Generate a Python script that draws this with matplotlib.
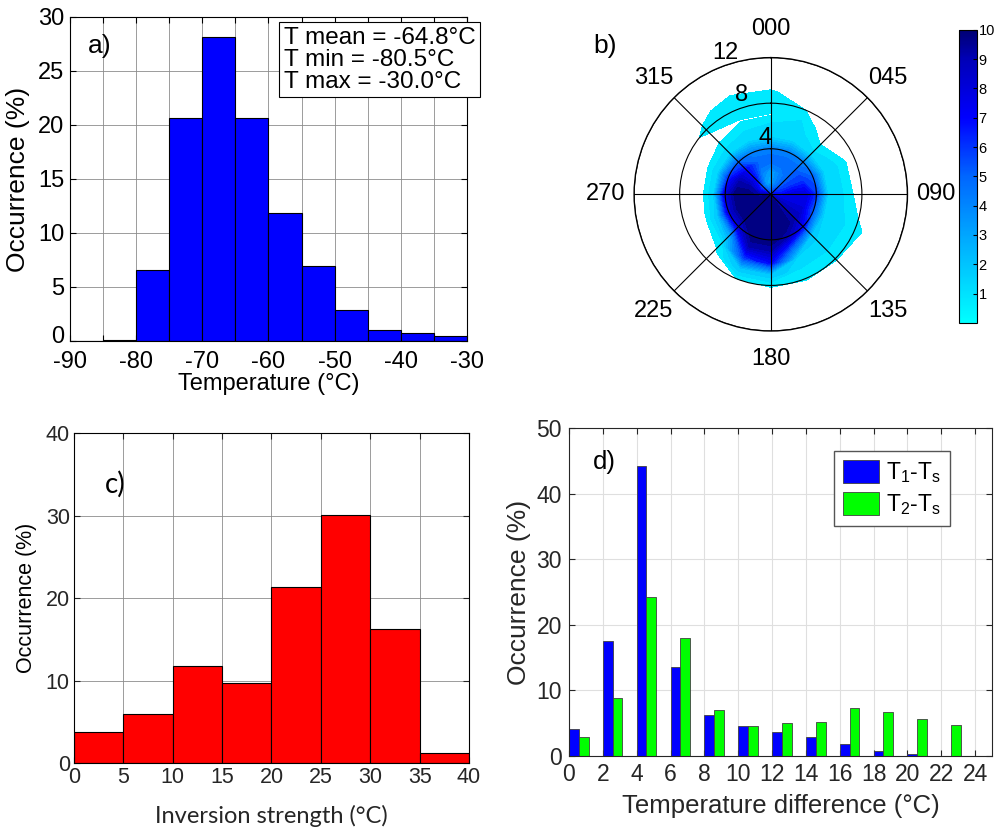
import matplotlib
matplotlib.use('Agg')
import matplotlib.pyplot as plt
import matplotlib.transforms as mtransforms
import numpy as np
from matplotlib.colors import LinearSegmentedColormap, Normalize
from matplotlib.cm import ScalarMappable

plt.rcParams['font.family'] = ['Liberation Sans', 'DejaVu Sans']
plt.rcParams['mathtext.fontset'] = 'custom'
plt.rcParams['mathtext.rm'] = 'Liberation Sans'

# a) surface temperature histogram
temp_edges = [-90, -85, -80, -75, -70, -65, -60, -55, -50, -45, -40, -35, -30]
temp_occ = [0.0, 0.06, 6.6, 20.6, 28.1, 20.6, 11.85, 6.9, 2.84, 1.05, 0.77, 0.46]
temp_stats = ['T mean = -64.8\u00b0C', 'T min = -80.5\u00b0C', 'T max = -30.0\u00b0C']

# b) wind rose field: rows = direction, columns = speed
directions = [0, 22.5, 45, 67.5, 90, 112.5, 135, 157.5,
              180, 202.5, 225, 247.5, 270, 292.5, 315, 337.5]
speeds = [0, 1, 2, 3, 4, 5, 6, 7, 8, 9, 10, 11]
field = [
    [6, 3, 3, 5, 4, 1.5, 1.2, 0.45, 1, 0.6, 0, 0],
    [6, 4, 4, 5, 4, 1.5, 1.2, 1, 0.5, 0, 0, 0],
    [7, 5, 5, 5, 4, 1.2, 0.6, 0, 0, 0, 0, 0],
    [7, 6, 6, 6, 5, 1.5, 1.2, 0.6, 0, 0, 0, 0],
    [8, 7, 8, 8, 6, 1.5, 1.2, 0.65, 0, 0, 0, 0],
    [8, 8, 8, 8, 5, 1.5, 1.2, 1, 0.7, 0.4, 0, 0],
    [9, 9, 9, 9, 7, 2, 1.2, 1, 0.6, 0, 0, 0],
    [10, 10, 10, 10, 9, 5, 1.5, 1, 0.6, 0, 0, 0],
    [10, 10, 10, 10, 10, 9, 7, 2, 0.6, 0, 0, 0],
    [10, 10, 10, 10, 10, 9, 6, 2, 0.5, 0, 0, 0],
    [10, 10, 10, 10, 8, 3, 1, 0.3, 0, 0, 0, 0],
    [10, 10, 10, 10, 8, 2, 0.55, 0, 0, 0, 0, 0],
    [9, 9, 10, 10, 8, 1.5, 0.4, 0, 0, 0, 0, 0],
    [7, 7, 9, 9, 6, 1.5, 0.5, 0, 0, 0, 0, 0],
    [6, 5, 7, 7, 5, 1.5, 0.7, 0.2, 0.7, 0.3, 0, 0],
    [6, 3, 4, 5, 4, 1.5, 1, 0.45, 1, 0.8, 0, 0],
]
dir_labels = ['000', '045', '090', '135', '180', '225', '270', '315']
label_dirs = [0, 45, 90, 135, 180, 225, 270, 315]
speed_rings = [4, 8, 12]

# c) inversion strength
inv_edges = [0, 5, 10, 15, 20, 25, 30, 35, 40]
inv_occ = [3.76, 5.98, 11.7, 9.7, 21.3, 30.1, 16.3, 1.2]

# d) temperature differences
diff_bins = [0, 2, 4, 6, 8, 10, 12, 14, 16, 18, 20, 22]
t1_ts = [4.07, 17.6, 44.25, 13.6, 6.3, 4.6, 3.6, 2.9, 1.8, 0.76, 0.3, 0.05]
t2_ts = [2.95, 8.8, 24.2, 17.95, 7.0, 4.5, 5.0, 5.2, 7.3, 6.7, 5.6, 4.7]

fig = plt.figure(figsize=(9.97, 8.3), dpi=100)

# ---- a)
ax = fig.add_axes([0.0702, 0.5892, 0.3982, 0.3904])
ax.bar(temp_edges[:-1], temp_occ, width=np.diff(temp_edges), align='edge',
       color='#0000ff', edgecolor='k', linewidth=0.8, zorder=2)
ax.set_xlim(-90, -30)
ax.set_ylim(0, 30)
ax.set_xticks(temp_edges)
ax.set_xticklabels([str(v) if v % 10 == 0 else '' for v in temp_edges])
ax.set_yticks(range(0, 31, 5))
ax.grid(True, color='#8c8c8c', linewidth=0.6, zorder=0)
ax.set_axisbelow(True)
ax.tick_params(direction='in', top=True, right=True, length=4, labelsize=17, pad=4)
ax.tick_params(axis='x', pad=7)
# lift the "0" label a little so it clears "-90"
zero_lab = ax.yaxis.get_major_ticks()[0].label1
zero_lab.set_transform(zero_lab.get_transform() +
                       mtransforms.ScaledTranslation(0, 5 / 72, fig.dpi_scale_trans))
ax.set_xlabel('Temperature (\u00b0C)', fontsize=17, labelpad=0)
ax.set_ylabel('Occurrence (%)', fontsize=19, labelpad=6)
ax.text(0.045, 0.91, 'a)', transform=ax.transAxes, fontsize=19, va='center')
ax.text(0.538, 0.968, '\n'.join(temp_stats), transform=ax.transAxes, fontsize=17.5,
        va='top', ha='left', linespacing=0.98,
        bbox=dict(boxstyle='square,pad=0.2', facecolor='white', edgecolor='k', linewidth=0.8))

# ---- b)
cmap = LinearSegmentedColormap.from_list('cyanblue', [
    (0.0, (0.0, 1.0, 1.0)),
    (0.3, (0.0, 0.65, 1.0)),
    (0.5, (0.0, 0.4, 1.0)),
    (0.7, (0.0, 0.0, 1.0)),
    (0.9, (0.0, 0.0, 0.72)),
    (1.0, (0.0, 0.0, 0.45)),
])
norm = Normalize(0, 10)
axb = fig.add_axes([0.636, 0.6012, 0.2742, 0.3294], projection='polar')
axb.set_theta_zero_location('N')
axb.set_theta_direction(-1)
th = np.deg2rad(directions + [360])
Z = np.array(field + [field[0]], dtype=float)
TH, R = np.meshgrid(th, speeds, indexing='ij')
axb.contourf(TH, R, Z, levels=np.arange(0.5, 10.51, 0.5), cmap=cmap, norm=norm,
             extend='max', zorder=1)
axb.set_ylim(0, 12)
axb.set_yticks(speed_rings)
axb.set_yticklabels([])
axb.set_xticks(np.deg2rad(label_dirs))
axb.set_xticklabels([])
axb.grid(True, color='k', linewidth=0.8, linestyle='-')
axb.set_axisbelow(False)
axb.spines['polar'].set_linewidth(1.0)
for lab, d in zip(dir_labels, label_dirs):
    axb.text(np.deg2rad(d), 14.5, lab, ha='center', va='center', fontsize=17)
for ring, ang, rr in zip(speed_rings, [-5.7, -16.3, -18], [5.0, 9.1, 13.0]):
    axb.text(np.deg2rad(ang), rr, str(ring), ha='center', va='center', fontsize=17)
fig.text(0.595, 0.945, 'b)', fontsize=19, va='center')
cax = fig.add_axes([0.962, 0.611, 0.018, 0.353])
cb = fig.colorbar(ScalarMappable(norm=norm, cmap=cmap), cax=cax, ticks=range(1, 11))
cb.ax.tick_params(labelsize=10.5, direction='in', length=3, pad=1)
cb.outline.set_linewidth(0.8)

# ---- c)
axc = fig.add_axes([0.0742, 0.0807, 0.3962, 0.3976])
axc.bar(inv_edges[:-1], inv_occ, width=np.diff(inv_edges), align='edge',
        color='#ff0000', edgecolor='k', linewidth=0.8, zorder=2)
axc.set_xlim(0, 40)
axc.set_ylim(0, 40)
axc.set_xticks(inv_edges)
axc.set_yticks(range(0, 41, 10))
axc.grid(True, color='#8c8c8c', linewidth=0.6, zorder=0)
axc.set_axisbelow(True)
axc.tick_params(direction='in', top=True, right=True, length=4, labelsize=15.5,
                pad=3, colors='#262626')
axc.set_xlabel('Inversion strength (\u00b0C)', fontsize=17, family='Lato',
               labelpad=12, color='#262626')
axc.set_ylabel('Occurrence (%)', fontsize=15.5, labelpad=6)
axc.text(0.078, 0.845, 'c)', transform=axc.transAxes, fontsize=20, family='Lato',
         va='center')

# ---- d)
dark = '#262626'
axd = fig.add_axes([0.5707, 0.0892, 0.4243, 0.3952])
bw = 0.58
axd.bar(diff_bins, t1_ts, width=bw, align='edge', color='#0000ff',
        edgecolor='#404040', linewidth=0.6, label=r'T$_{\mathregular{1}}$-T$_{\mathregular{s}}$', zorder=2)
axd.bar(np.array(diff_bins) + bw, t2_ts, width=bw, align='edge', color='#00ff00',
        edgecolor='#404040', linewidth=0.6, label=r'T$_{\mathregular{2}}$-T$_{\mathregular{s}}$', zorder=2)
axd.set_xlim(0, 25)
axd.set_ylim(0, 50)
axd.set_xticks(range(0, 25, 2))
axd.set_yticks(range(0, 51, 10))
axd.grid(True, color='#dfdfdf', linewidth=0.8, zorder=0)
axd.set_axisbelow(True)
for s in axd.spines.values():
    s.set_color(dark)
axd.tick_params(direction='in', top=True, right=True, length=4, labelsize=16.5,
                pad=5, colors=dark)
axd.set_xlabel('Temperature difference (\u00b0C)', fontsize=18.5, color=dark, labelpad=6)
axd.set_ylabel('Occurrence (%)', fontsize=19, color=dark, labelpad=4)
axd.text(0.056, 0.895, 'd)', transform=axd.transAxes, fontsize=18.5, va='center')
leg = axd.legend(loc='upper right', bbox_to_anchor=(0.9007, 0.93), fontsize=16.5,
                 handlelength=1.55, handleheight=1.15, fancybox=False, framealpha=1,
                 edgecolor='#555555', borderpad=0.4, labelspacing=0.3, handletextpad=0.3,
                 borderaxespad=0)
leg.get_frame().set_linewidth(1.0)

fig.savefig('out.png', dpi=100)
